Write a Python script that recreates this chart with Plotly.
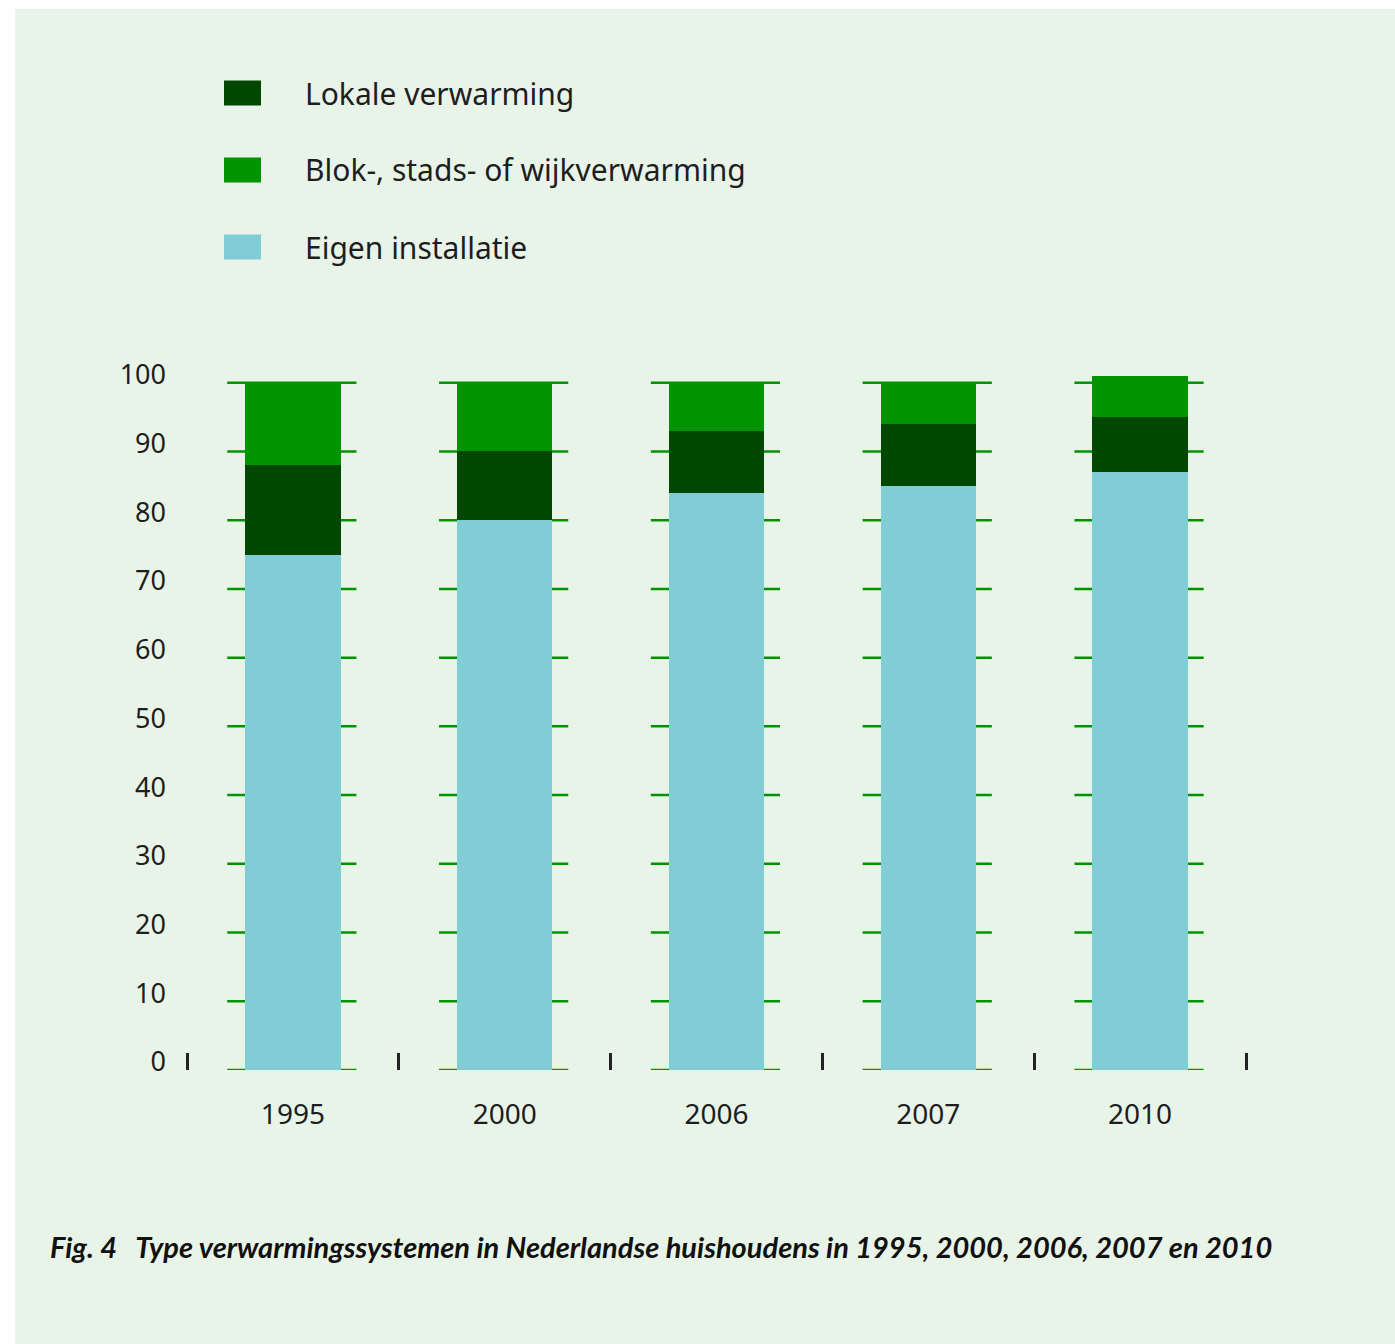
import plotly.graph_objects as go

years = ["1995", "2000", "2006", "2007", "2010"]
eigen = [75, 80, 84, 85, 87]
lokale = [13, 10, 9, 9, 8]
blok = [12, 10, 7, 6, 6]
y_ticks = [0, 10, 20, 30, 40, 50, 60, 70, 80, 90, 100]

series_names = ["Lokale verwarming", "Blok-, stads- of wijkverwarming", "Eigen installatie"]
C_DARK = "#004700"
C_GREEN = "#009400"
C_BLUE = "#80CDD5"
BG = "#E9F4E9"
TXT = "#1e1e1e"

W, H = 1395, 1344
L, R = 187, 1246
T, B = 369, 1070


def px_x(p):
    return (p - L) / (R - L)


def px_y(p):
    return (B - p) / (B - T)


xs = list(range(len(years)))
fig = go.Figure()
fig.add_bar(x=xs, y=eigen, marker_color=C_BLUE, width=0.45, name=series_names[2],
            marker_line_width=0)
fig.add_bar(x=xs, y=lokale, marker_color=C_DARK, width=0.45, name=series_names[0],
            marker_line_width=0)
fig.add_bar(x=xs, y=blok, marker_color=C_GREEN, width=0.45, name=series_names[1],
            marker_line_width=0)

shapes = []
# panel background with white strips top/left
shapes.append(dict(type="rect", xref="paper", yref="paper", layer="below",
                   x0=px_x(15), x1=px_x(W + 5), y0=px_y(H + 5), y1=px_y(9),
                   fillcolor=BG, line_width=0))
# short green gridline segments around each bar
for i in xs:
    for v in y_ticks:
        shapes.append(dict(type="line", xref="x", yref="y", layer="below",
                           x0=i - 0.31, x1=i + 0.3, y0=v, y1=v,
                           line=dict(color=C_GREEN, width=2.5)))

annotations = []
legend_colors = [C_DARK, C_GREEN, C_BLUE]
legend_rows = [93, 170, 247]
for name, col, yc in zip(series_names, legend_colors, legend_rows):
    shapes.append(dict(type="rect", xref="paper", yref="paper",
                       x0=px_x(224), x1=px_x(261), y0=px_y(yc + 12.5), y1=px_y(yc - 12.5),
                       fillcolor=col, line_width=0))
    annotations.append(dict(xref="paper", yref="paper", x=px_x(303), y=px_y(yc),
                            xanchor="left", yanchor="middle", showarrow=False,
                            text=name, font=dict(family="Noto Sans", size=30, color=TXT)))

annotations.append(dict(xref="paper", yref="paper", x=px_x(48), y=px_y(1246),
                        xanchor="left", yanchor="middle", showarrow=False,
                        text="Fig. 4&nbsp;&nbsp;&nbsp;Type verwarmingssystemen in Nederlandse huishoudens in 1995, 2000, 2006, 2007 en 2010",
                        font=dict(family="Lato", size=29, color="#111",
                                  weight="bold", style="italic")))

fig.update_layout(
    width=W, height=H,
    margin=dict(l=L, r=W - R, t=T, b=H - B, pad=0),
    paper_bgcolor="white",
    plot_bgcolor="rgba(0,0,0,0)",
    barmode="stack",
    bargap=0,
    showlegend=False,
    shapes=shapes,
    annotations=annotations,
    font=dict(family="Noto Sans", color=TXT),
)
fig.update_xaxes(
    range=[-0.5, 4.5], tickmode="array", tickvals=xs, ticktext=years,
    ticks="", showgrid=False, zeroline=False, showline=False,
    tickfont=dict(size=28, color=TXT), ticklabelstandoff=25,
    minor=dict(tickmode="array", tickvals=[i - 0.5 for i in range(len(years) + 1)],
               ticks="inside", ticklen=17, tickwidth=2.5, tickcolor="#222", showgrid=False),
)
fig.update_yaxes(
    range=[0, 102], tickmode="array", tickvals=y_ticks,
    ticks="", showgrid=False, zeroline=False, showline=False,
    tickfont=dict(size=27, color=TXT), ticklabelstandoff=20, ticklabelshift=-8,
)

fig.write_html("out.html")
